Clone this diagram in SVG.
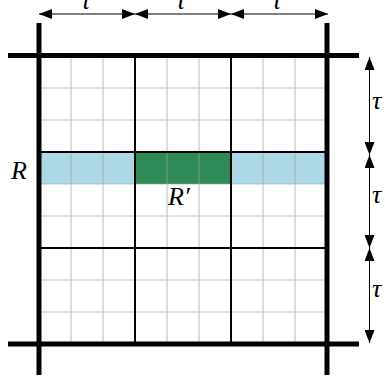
<svg xmlns="http://www.w3.org/2000/svg" width="385" height="383" viewBox="0 0 385 383">
<defs>
<marker id="ah" viewBox="0 0 13 10" refX="13" refY="5" markerWidth="13" markerHeight="10" markerUnits="userSpaceOnUse" orient="auto-start-reverse">
<path d="M0,0 L13,5 L0,10 Z" fill="#000"/>
</marker>
<style>
.minor{stroke:#a0a0a0;stroke-opacity:0.6;stroke-width:1.2;fill:none}
.major{stroke:#000;stroke-width:2;fill:none}
.outer{stroke:#000;stroke-width:5;fill:none}
.dim{stroke:#000;stroke-width:1;fill:none;marker-start:url(#ah);marker-end:url(#ah)}
.lbl{font-family:"Liberation Serif","DejaVu Serif",serif;font-style:italic;font-size:26px;fill:#000}
</style>
</defs>
<g id="fills">
<rect x="39" y="152" width="96" height="32" fill="#ADD8E6"/>
<rect x="231" y="152" width="96" height="32" fill="#ADD8E6"/>
<rect x="135" y="152" width="96" height="32" fill="#2E8B57"/>
</g>
<g id="grid">
<path class="minor" d="M71,56V344M103,56V344M167,56V344M199,56V344M263,56V344M295,56V344M39,88H327M39,120H327M39,184H327M39,216H327M39,280H327M39,312H327"/>
<path class="major" d="M135,56V344M231,56V344M39,152H327M39,248H327"/>
<path class="outer" d="M39,23V375M327,23V375M8,55.5H359M8,344H359"/>
</g>
<g id="connectors">
<line class="dim" x1="39" y1="14" x2="135" y2="14"/>
<line class="dim" x1="135" y1="14" x2="231" y2="14"/>
<line class="dim" x1="231" y1="14" x2="328" y2="14"/>
<line class="dim" x1="369.5" y1="57" x2="369.5" y2="155"/>
<line class="dim" x1="369.5" y1="155" x2="369.5" y2="248"/>
<line class="dim" x1="369.5" y1="248" x2="369.5" y2="343"/>
</g>
<g id="labels">
<text class="lbl" x="81" y="9">τ</text>
<text class="lbl" x="176" y="9">τ</text>
<text class="lbl" x="272" y="9">τ</text>
<text class="lbl" x="372" y="109">τ</text>
<text class="lbl" x="372" y="203">τ</text>
<text class="lbl" x="372" y="297">τ</text>
<text class="lbl" x="11" y="179">R</text>
<text class="lbl" x="168" y="205">R′</text>
</g>
</svg>
